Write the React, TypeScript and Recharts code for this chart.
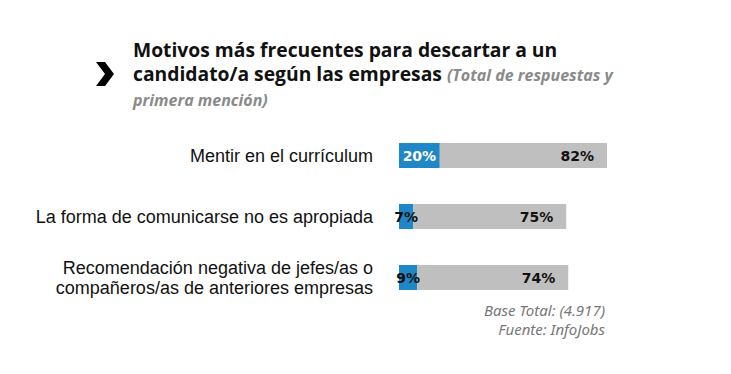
import { BarChart, Bar, XAxis, YAxis, LabelList } from "recharts"

const categories = [
  ["Mentir en el currículum"],
  ["La forma de comunicarse no es apropiada"],
  ["Recomendación negativa de jefes/as o", "compañeros/as de anteriores empresas"],
]
const firstMention = [20, 7, 9]
const totalResponses = [82, 75, 74]

const data = categories.map((lines, i) => ({
  name: lines.join("\n"),
  first: firstMention[i],
  total: totalResponses[i],
}))

const BLUE = "#1f87c6"
const GRAY = "#bfbfbf"

function CategoryTick(props: any) {
  const { x, y, payload } = props
  const lines = String(payload.value).split("\n")
  const lh = 20
  const y0 = y - ((lines.length - 1) * lh) / 2
  return (
    <text x={x} y={y0} textAnchor="end" fontFamily="'Liberation Sans', Arial, sans-serif" fontSize={18} fill="#111">
      {lines.map((l, i) => (
        <tspan key={i} x={x} y={y0 + i * lh} dy="0.35em">
          {l}
        </tspan>
      ))}
    </text>
  )
}

function FirstLabel(props: any) {
  const { x, y, width, height, value } = props
  return (
    <text
      x={x + width / 2}
      y={y + height / 2}
      dy="0.36em"
      textAnchor="middle"
      fontFamily="'DejaVu Sans', Verdana, sans-serif"
      fontWeight="bold"
      fontSize={14}
      fill={value >= 15 ? "#fff" : "#111"}
    >
      {value}%
    </text>
  )
}

function TotalLabel(props: any) {
  const { x, y, width, height, value } = props
  return (
    <text
      x={x + width - 13}
      y={y + height / 2}
      dy="0.36em"
      textAnchor="end"
      fontFamily="'DejaVu Sans', Verdana, sans-serif"
      fontWeight="bold"
      fontSize={14}
      fill="#111"
    >
      {value}%
    </text>
  )
}

const subStyle = { fontStyle: "italic", color: "#8a8a8a", fontSize: 16 } as const

export default function App() {
  return (
    <div style={{ position: "absolute", left: 0, top: 0, width: 731, height: 374, background: "#fff", overflow: "hidden" }}>
      <svg style={{ position: "absolute", left: 0, top: 0 }} width={731} height={374}>
        <polygon points="96,62 105,62 114,74 105,86 96,86 105,74" fill="#000" />
      </svg>
      <div
        style={{
          position: "absolute",
          left: 133,
          top: 38,
          whiteSpace: "nowrap",
          fontFamily: "'Open Sans', 'Noto Sans', sans-serif",
          fontWeight: "bold",
          fontSize: 19.3,
          lineHeight: "23.5px",
          color: "#111",
        }}
      >
        Motivos más frecuentes para descartar a un
        <br />
        candidato/a según las empresas <span style={subStyle}>(Total de respuestas y</span>
        <br />
        <span style={subStyle}>primera mención)</span>
      </div>
      <div style={{ position: "absolute", left: 0, top: 0 }}>
        <BarChart
          width={731}
          height={374}
          data={data}
          layout="vertical"
          margin={{ top: 125, right: 124, bottom: 66, left: 0 }}
          barCategoryGap={18}
        >
          <XAxis type="number" domain={[0, 100]} hide />
          <YAxis
            type="category"
            dataKey="name"
            width={399}
            axisLine={false}
            tickLine={false}
            tickMargin={26}
            tickSize={0}
            tick={<CategoryTick />}
          />
          <Bar dataKey="first" stackId="a" fill={BLUE} barSize={25} isAnimationActive={false}>
            <LabelList dataKey="first" content={<FirstLabel />} />
          </Bar>
          <Bar dataKey="total" stackId="a" fill={GRAY} barSize={25} isAnimationActive={false}>
            <LabelList dataKey="total" content={<TotalLabel />} />
          </Bar>
        </BarChart>
      </div>
      <div
        style={{
          position: "absolute",
          right: 126,
          top: 301,
          textAlign: "right",
          fontFamily: "'Noto Sans', sans-serif",
          fontStyle: "italic",
          fontSize: 15,
          lineHeight: "19px",
          color: "#777",
        }}
      >
        Base Total: (4.917)
        <br />
        Fuente: InfoJobs
      </div>
    </div>
  )
}
